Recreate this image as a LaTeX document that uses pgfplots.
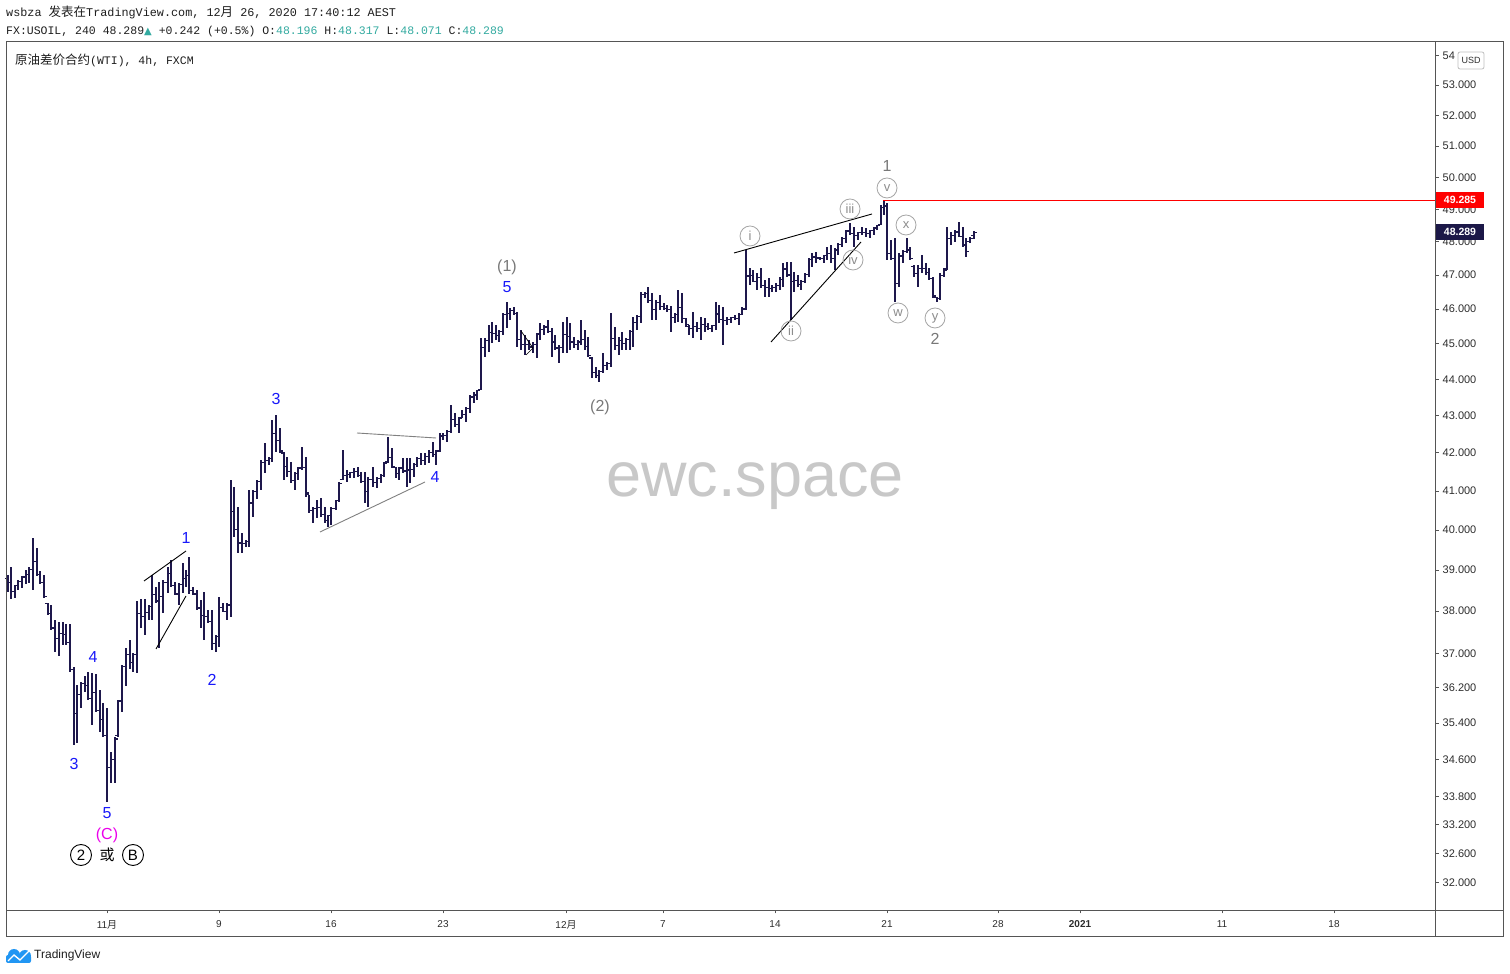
\documentclass[border=0pt]{standalone}
\usepackage{fontspec}
\setmainfont{Liberation Sans}
\newfontfamily\mono{Liberation Mono}
\newfontfamily\cjk{Noto Sans CJK SC}
\newfontfamily\dejavu{DejaVu Sans}
\usepackage{pgfplots}
\usepackage{pgfplotstable}
\pgfplotsset{compat=1.18}
\definecolor{barcol}{RGB}{30,24,76}
\definecolor{tvteal}{RGB}{50,170,160}
\definecolor{framecol}{RGB}{85,85,85}
\definecolor{ticktxt}{RGB}{45,45,45}
\definecolor{wavegray}{RGB}{120,120,120}
\definecolor{circgray}{RGB}{165,165,165}
\definecolor{circtxt}{RGB}{140,140,140}
\definecolor{wblue}{RGB}{25,25,250}
\definecolor{wmag}{RGB}{235,0,235}
\definecolor{txt}{RGB}{30,30,30}
\definecolor{wmgray}{RGB}{200,200,200}
\definecolor{tvblue}{RGB}{33,150,243}
\definecolor{tvnavy}{RGB}{28,24,72}
\newcommand{\cj}[1]{{\cjk\fontsize{12.5}{13}\selectfont #1}}
\pgfdeclareplotmark{tickL}{\pgfpathmoveto{\pgfqpoint{-\pgfplotmarksize}{0pt}}\pgfpathlineto{\pgfqpoint{0pt}{0pt}}\pgfusepathqstroke}
\pgfdeclareplotmark{tickR}{\pgfpathmoveto{\pgfqpoint{0pt}{0pt}}\pgfpathlineto{\pgfqpoint{\pgfplotmarksize}{0pt}}\pgfusepathqstroke}

\pgfplotstableread{
x o h l c
8 38.80 38.88 38.47 38.69
11 38.69 39.08 38.30 38.48
15 38.48 38.64 38.32 38.62
18 38.62 38.76 38.52 38.72
22 38.72 38.86 38.57 38.83
26 38.83 39.00 38.66 38.89
29 38.89 39.08 38.69 39.02
33 39.02 39.81 38.52 39.21
37 39.21 39.56 38.86 38.90
40 38.90 38.98 38.66 38.70
44 38.70 38.88 38.32 38.35
48 38.18 38.20 37.91 37.95
51 37.95 38.15 37.56 37.60
55 37.60 37.79 37.04 37.35
59 37.35 37.75 36.94 37.48
63 37.48 37.75 37.20 37.45
66 37.45 37.70 37.20 37.25
70 37.25 37.68 36.57 36.62
74 36.62 36.69 34.92 35.62
77 35.62 36.27 34.96 36.05
81 36.05 36.34 35.75 36.30
85 36.30 36.48 36.11 36.25
88 36.25 36.57 35.93 35.96
92 35.96 36.55 35.37 36.10
96 36.10 36.53 35.66 35.69
100 35.69 36.16 35.21 35.48
103 35.48 35.86 35.10 35.12
107 35.12 35.75 33.69 34.42
111 34.42 34.75 34.09 34.60
115 34.60 35.10 34.09 35.05
118 35.12 35.93 35.10 35.90
122 35.90 36.73 35.66 36.69
126 36.69 37.13 36.25 36.98
130 36.98 37.32 36.64 36.79
133 36.79 37.01 36.57 36.98
137 36.98 38.25 36.55 37.95
141 37.95 38.30 37.60 37.87
145 37.87 38.30 37.44 37.97
149 37.97 38.15 37.79 38.12
152 38.12 38.88 37.79 38.40
156 38.40 38.59 38.20 38.25
159 38.25 38.71 37.13 38.36
163 38.36 38.76 37.96 38.70
168 38.70 39.08 38.45 38.92
171 38.92 39.26 38.59 38.62
175 38.62 38.71 38.40 38.42
179 38.42 38.69 38.15 38.65
183 38.65 39.18 38.45 38.80
186 38.80 39.00 38.59 38.87
189 38.87 39.33 38.42 38.50
193 38.50 38.59 38.40 38.42
197 38.42 38.52 38.03 38.08
201 38.08 38.27 37.60 37.90
204 37.90 38.47 37.32 37.88
208 37.88 38.03 37.72 37.75
212 37.75 38.03 37.08 37.24
216 37.24 37.44 37.04 37.40
219 37.40 38.35 37.15 38.09
223 38.09 38.20 37.98 38.00
227 38.00 38.20 37.79 38.15
231 38.15 41.29 37.86 40.47
234 40.47 41.11 39.83 40.01
238 40.01 40.59 39.43 39.68
242 39.68 39.93 39.43 39.67
246 39.67 39.76 39.58 39.72
249 39.72 41.03 39.58 40.69
253 40.69 41.03 40.34 40.98
257 40.98 41.29 40.78 41.25
261 41.25 41.82 41.03 41.75
265 41.75 42.27 41.48 41.80
269 41.80 41.90 41.69 41.85
272 41.85 42.89 41.77 42.52
276 42.52 43.02 42.03 42.33
280 42.33 42.67 42.00 42.05
284 42.00 42.03 41.29 41.63
287 41.63 41.90 41.37 41.50
291 41.50 41.77 41.22 41.27
295 41.27 41.50 41.03 41.46
298 41.46 41.64 41.29 41.60
302 41.60 42.16 41.56 41.62
306 41.62 41.90 40.85 40.95
309 40.90 40.90 40.44 40.50
313 40.50 40.59 40.18 40.54
317 40.54 40.77 40.31 40.58
321 40.58 40.82 40.34 40.39
325 40.39 40.59 40.18 40.24
328 40.24 40.39 40.08 40.36
331 40.36 40.59 40.13 40.55
336 40.55 40.77 40.52 40.75
339 40.75 41.24 40.72 41.20
343 41.30 42.08 41.29 41.40
347 41.40 41.56 41.24 41.43
350 41.43 41.50 41.35 41.48
354 41.48 41.61 41.35 41.50
358 41.50 41.64 41.37 41.40
361 41.40 41.50 41.22 41.25
365 41.25 41.50 40.70 40.98
368 40.98 41.37 40.59 41.30
373 41.30 41.64 41.11 41.22
377 41.22 41.37 41.08 41.32
381 41.32 41.43 41.22 41.40
384 41.40 41.77 41.37 41.72
388 41.76 42.43 41.74 41.88
392 41.88 42.14 41.61 41.65
396 41.62 41.64 41.35 41.46
399 41.46 41.64 41.29 41.60
403 41.60 41.87 41.48 41.52
407 41.52 41.87 41.11 41.55
410 41.55 41.87 41.22 41.56
414 41.56 41.74 41.37 41.70
417 41.70 41.90 41.64 41.85
421 41.85 42.00 41.69 41.80
425 41.80 42.00 41.69 41.91
429 41.91 42.08 41.74 42.02
433 42.02 42.30 41.90 41.95
436 41.95 42.08 41.69 42.05
440 42.05 42.54 42.03 42.45
443 42.45 42.54 42.35 42.46
447 42.46 42.62 42.30 42.58
451 42.58 43.30 42.54 42.89
455 42.89 43.08 42.70 42.76
459 42.76 42.97 42.54 42.92
462 42.96 43.16 42.94 43.04
466 43.04 43.24 42.83 43.20
470 43.20 43.57 43.08 43.51
474 43.51 43.66 43.35 43.57
477 43.57 43.71 43.43 43.68
481 43.72 45.17 43.71 44.90
485 44.90 45.17 44.63 45.10
489 45.10 45.55 44.77 45.33
492 45.33 45.63 45.03 45.30
496 45.30 45.55 45.11 45.23
499 45.23 45.40 45.06 45.35
503 45.35 45.89 45.26 45.84
507 45.84 46.21 45.46 45.87
510 45.87 46.04 45.69 45.95
514 45.95 46.06 45.83 45.88
517 45.88 45.92 44.92 45.12
521 45.12 45.40 44.83 44.98
525 44.98 45.26 44.69 44.97
529 44.97 45.11 44.83 44.91
533 44.91 45.06 44.75 44.97
537 44.97 45.32 44.61 45.28
540 45.28 45.60 45.11 45.41
544 45.41 45.55 45.26 45.48
548 45.48 45.69 45.32 45.36
552 45.36 45.46 44.63 45.05
555 45.05 45.26 44.83 44.88
559 44.88 44.97 44.46 44.90
563 44.90 45.63 44.75 45.27
567 45.27 45.78 44.75 45.22
570 45.22 45.60 44.83 45.05
574 45.05 45.20 44.89 44.97
578 44.97 45.11 44.83 45.05
581 45.05 45.69 44.97 45.12
585 45.12 45.40 44.83 44.92
588 44.92 45.20 44.63 44.68
592 44.60 44.63 44.04 44.20
596 44.20 44.35 44.04 44.10
599 44.10 44.27 43.93 44.22
603 44.22 44.75 44.18 44.38
607 44.38 44.49 44.27 44.45
611 44.45 45.89 44.35 45.16
615 45.16 45.49 44.83 44.95
619 44.95 45.20 44.69 45.09
622 45.09 45.34 44.83 45.00
626 45.00 45.17 44.83 45.12
630 45.12 45.40 44.83 45.35
633 45.35 45.78 44.92 45.62
637 45.62 45.83 45.40 45.78
641 45.78 46.51 45.60 46.42
645 46.42 46.51 46.33 46.45
648 46.45 46.65 46.18 46.25
652 46.25 46.48 45.69 45.98
656 45.98 46.27 45.69 46.20
660 46.20 46.42 45.98 46.08
664 46.08 46.18 45.98 46.02
667 46.02 46.12 45.92 45.98
671 45.98 46.09 45.34 45.75
675 45.75 45.89 45.60 45.85
678 45.85 46.56 45.63 46.04
682 46.04 46.48 45.60 45.72
686 45.72 45.75 45.49 45.55
689 45.50 45.55 45.26 45.45
693 45.45 45.92 45.17 45.49
697 45.49 45.63 45.34 45.45
701 45.45 45.78 45.11 45.55
705 45.55 45.75 45.34 45.50
708 45.50 45.60 45.40 45.45
712 45.45 45.55 45.34 45.52
716 45.52 46.21 45.40 45.86
719 45.86 46.12 45.60 45.70
723 45.70 46.06 44.97 45.67
727 45.67 45.78 45.55 45.69
731 45.69 45.78 45.60 45.76
735 45.76 45.83 45.69 45.72
739 45.72 45.89 45.55 45.85
742 45.85 46.06 45.83 46.00
746 46.00 47.76 45.98 46.97
750 46.97 47.22 46.71 46.98
753 46.98 47.16 46.80 46.82
757 46.82 47.07 46.56 46.92
761 46.92 47.22 46.62 46.70
765 46.70 46.86 46.36 46.64
769 46.64 46.92 46.36 46.61
772 46.61 46.71 46.51 46.64
776 46.64 46.77 46.51 46.70
780 46.70 46.95 46.56 46.88
783 46.88 47.37 46.65 47.18
787 47.18 47.40 46.95 47.00
791 47.00 47.40 45.69 46.81
794 46.81 47.10 46.51 46.83
798 46.83 47.01 46.65 46.71
801 46.71 46.86 46.56 46.80
805 46.80 47.07 46.77 47.02
809 47.02 47.52 46.95 47.46
812 47.46 47.67 47.25 47.54
816 47.54 47.70 47.37 47.51
820 47.51 47.55 47.46 47.49
824 47.49 47.61 47.37 47.58
827 47.58 47.85 47.46 47.64
831 47.64 47.91 47.37 47.49
835 47.49 47.82 47.16 47.75
838 47.75 47.97 47.61 47.92
842 47.92 48.15 47.85 48.10
846 48.10 48.37 47.97 48.33
850 48.33 48.58 48.21 48.25
854 48.25 48.46 47.85 48.19
858 48.19 48.31 48.06 48.28
862 48.28 48.46 48.21 48.29
866 48.29 48.43 48.15 48.25
870 48.25 48.37 48.12 48.34
874 48.34 48.46 48.21 48.42
877 48.42 48.52 48.37 48.50
881 48.52 49.14 48.52 49.05
884 49.05 49.285 48.83 49.10
887 49.10 49.20 47.46 47.65
891 47.65 48.06 47.46 47.50
895 47.50 48.12 46.21 46.75
899 46.75 47.67 46.65 47.57
903 47.57 47.76 47.37 47.70
907 47.70 48.12 47.67 47.75
910 47.75 47.85 47.46 47.50
914 47.25 47.31 46.95 47.05
918 47.05 47.31 46.65 47.20
922 47.20 47.61 47.07 47.19
926 47.19 47.37 47.01 47.08
929 47.08 47.22 46.86 46.90
933 46.90 46.95 46.33 46.38
937 46.33 46.36 46.21 46.30
940 46.30 47.07 46.27 46.98
944 46.98 47.22 46.95 47.15
947 47.18 48.46 47.16 48.11
951 48.11 48.31 47.91 48.19
955 48.19 48.37 48.00 48.30
959 48.30 48.61 48.15 48.16
963 48.16 48.46 47.85 47.90
966 47.90 48.12 47.55 47.70
970 48.00 48.15 47.97 48.10
974 48.196 48.317 48.071 48.289
}\ohlc

\begin{document}
\begin{tikzpicture}
\useasboundingbox (0pt,0pt) rectangle (1510pt,974pt);
\fill[white] (0pt,0pt) rectangle (1510pt,974pt);

\begin{axis}[
  at={(6pt,63.5pt)}, anchor=south west, scale only axis,
  width=1429.5pt, height=868.5pt,
  xmin=6, xmax=1435.5, ymin=31.448, ymax=54.471,
  y coord trafo/.code={\pgfmathparse{ln(#1)}},
  y coord inv trafo/.code={\pgfmathparse{exp(#1)}},
  axis line style={framecol, line width=1pt},
  xtick={107,219,331,443,566,663,775,887,998,1080,1222,1334},
  xticklabels={{11{\cjk\fontsize{10}{10}\selectfont 月}},9,16,23,{12{\cjk\fontsize{10}{10}\selectfont 月}},7,14,21,28,\textbf{2021},11,18},
  ytick={32,32.6,33.2,33.8,34.6,35.4,36.2,37,38,39,40,41,42,43,44,45,46,47,48,49,50,51,52,53,54},
  yticklabels={32.000,32.600,33.200,33.800,34.600,35.400,36.200,37.000,38.000,39.000,40.000,41.000,42.000,43.000,44.000,45.000,46.000,47.000,48.000,49.000,50.000,51.000,52.000,53.000,54},
  xtick pos=bottom, ytick pos=right, yticklabel pos=right,
  tick align=outside, major tick length=3pt,
  yminorticks=false, xminorticks=false,
  tick style={framecol, line width=0.8pt},
  xticklabel style={font=\fontsize{10}{10}\selectfont, text=ticktxt, inner sep=0pt, yshift=-7pt},
  yticklabel style={font=\fontsize{11}{11}\selectfont, text=ticktxt, inner sep=0pt, anchor=west, xshift=4pt},
]
\addplot[ycomb, mark=none, draw=barcol, line width=1.2pt, forget plot] table[x=x, y=h] {\ohlc};
\addplot[ycomb, mark=none, draw=white, line width=2pt, forget plot] table[x=x, y=l] {\ohlc};
\addplot[only marks, mark=tickL, mark size=3.2pt, mark options={line width=1.2pt, draw=barcol}] table[x=x, y=o] {\ohlc};
\addplot[only marks, mark=tickR, mark size=3.2pt, mark options={line width=1.2pt, draw=barcol}] table[x=x, y=c] {\ohlc};
\draw[red, line width=1pt] (axis cs:883,49.285) -- (axis cs:1435.5,49.285);
\end{axis}

\begin{scope}[x=1pt,y=1pt]
% watermark
\node[anchor=base, font=\fontsize{63}{63}\selectfont, text=wmgray, inner sep=0pt] at (755,974-497) {ewc.space};

% frames
\draw[framecol, line width=1pt] (6,974-42) rectangle (1503,974-937);
\draw[framecol, line width=1pt] (1435.5,974-42) -- (1435.5,974-937);
\draw[framecol, line width=1pt] (6,974-910.5) -- (1503,974-910.5);

% price labels
\fill[red] (1436,974-208) rectangle (1484,974-192);
\node[text=white, font=\bfseries\fontsize{10.5}{11}\selectfont] at (1460,974-200) {49.285};
\fill[tvnavy] (1436,974-240) rectangle (1484,974-224);
\node[text=white, font=\bfseries\fontsize{10.5}{11}\selectfont] at (1460,974-232) {48.289};
\draw[fill=white, draw=circgray!70, rounded corners=2pt, line width=0.8pt] (1458,974-69) rectangle (1484,974-52);
\node[text=ticktxt, font=\fontsize{9}{9}\selectfont] at (1471,974-60.5) {USD};

% header
\node[anchor=base west, inner sep=0pt, font=\mono\fontsize{11.8}{12}\selectfont, text=txt] at (6,974-17) {wsbza \cj{发表在}TradingView.com, 12\cj{月} 26, 2020 17:40:12 AEST};
\node[anchor=base west, inner sep=0pt, font=\mono\fontsize{11.5}{12}\selectfont, text=txt] at (6,974-35) {FX:USOIL, 240 48.289\textcolor{tvteal}{\dejavu\fontsize{10}{10}\selectfont ▲} +0.242 (+0.5\%) O:\textcolor{tvteal}{48.196} H:\textcolor{tvteal}{48.317} L:\textcolor{tvteal}{48.071} C:\textcolor{tvteal}{48.289}};
\node[anchor=base west, inner sep=0pt, font=\mono\fontsize{11.5}{12}\selectfont, text=txt] at (15,974-65) {\cj{原油差价合约}(WTI), 4h, FXCM};

% trend lines
\draw[black, line width=0.9pt] (144,974-581) -- (186,974-551);
\draw[black, line width=0.9pt] (156,974-649) -- (186,974-596);
\draw[gray, line width=0.9pt] (357,974-433) -- (436,974-438);
\draw[gray, line width=0.9pt] (320,974-532) -- (425,974-482);
\draw[black, line width=0.7pt] (521,974-331) -- (533,974-348) -- (526,974-355);
\draw[black, line width=0.9pt] (734,974-253) -- (872,974-214);
\draw[black, line width=0.9pt] (771,974-342) -- (861,974-242);

% wave labels
\tikzset{wb/.style={text=wblue, font=\fontsize{16}{16}\selectfont, inner sep=0pt},
         wg/.style={text=wavegray, font=\fontsize{16}{16}\selectfont, inner sep=0pt},
         cr/.style={circle, draw=circgray, line width=0.8pt, minimum size=20pt, inner sep=0pt, text=circtxt, font=\fontsize{13}{13}\selectfont},
         cb/.style={circle, draw=black, line width=0.9pt, minimum size=21pt, inner sep=0pt, text=black, font=\fontsize{15}{15}\selectfont}}
\node[wb] at (93,974-657) {4};
\node[wb] at (74,974-764) {3};
\node[wb] at (107,974-813) {5};
\node[text=wmag, font=\fontsize{16}{16}\selectfont, inner sep=0pt] at (107,974-835) {(C)};
\node[cb] at (81,974-855) {2};
\node[inner sep=0pt, font=\cjk\fontsize{15}{15}\selectfont] at (107,974-855) {或};
\node[cb] at (133,974-855) {B};
\node[wb] at (186,974-538) {1};
\node[wb] at (212,974-680) {2};
\node[wb] at (276,974-399) {3};
\node[wb] at (435,974-477) {4};
\node[wb] at (507,974-287) {5};
\node[wg] at (507,974-267) {(1)};
\node[wg] at (600,974-407) {(2)};
\node[cr] at (750,974-236) {i};
\node[cr] at (791,974-331) {ii};
\node[cr] at (850,974-209) {iii};
\node[cr] at (853,974-260) {iv};
\node[cr] at (887,974-188) {v};
\node[wg] at (887,974-166) {1};
\node[cr] at (906,974-225) {x};
\node[cr] at (898,974-313) {w};
\node[cr] at (935,974-318) {y};
\node[wg] at (935,974-339) {2};

% TradingView logo
\fill[tvblue, rounded corners=2pt] (6,974-963) rectangle (31,974-955);
\fill[tvblue] (14,974-955) circle (6);
\fill[tvblue] (25,974-956) circle (6);
\draw[white, line width=1.4pt] (8,974-961) -- (14,974-955) -- (20,974-960) -- (29,974-951);
\node[anchor=west, inner sep=0pt, font=\fontsize{12}{12}\selectfont, text=txt] at (34,974-955) {TradingView};
\end{scope}
\end{tikzpicture}
\end{document}
